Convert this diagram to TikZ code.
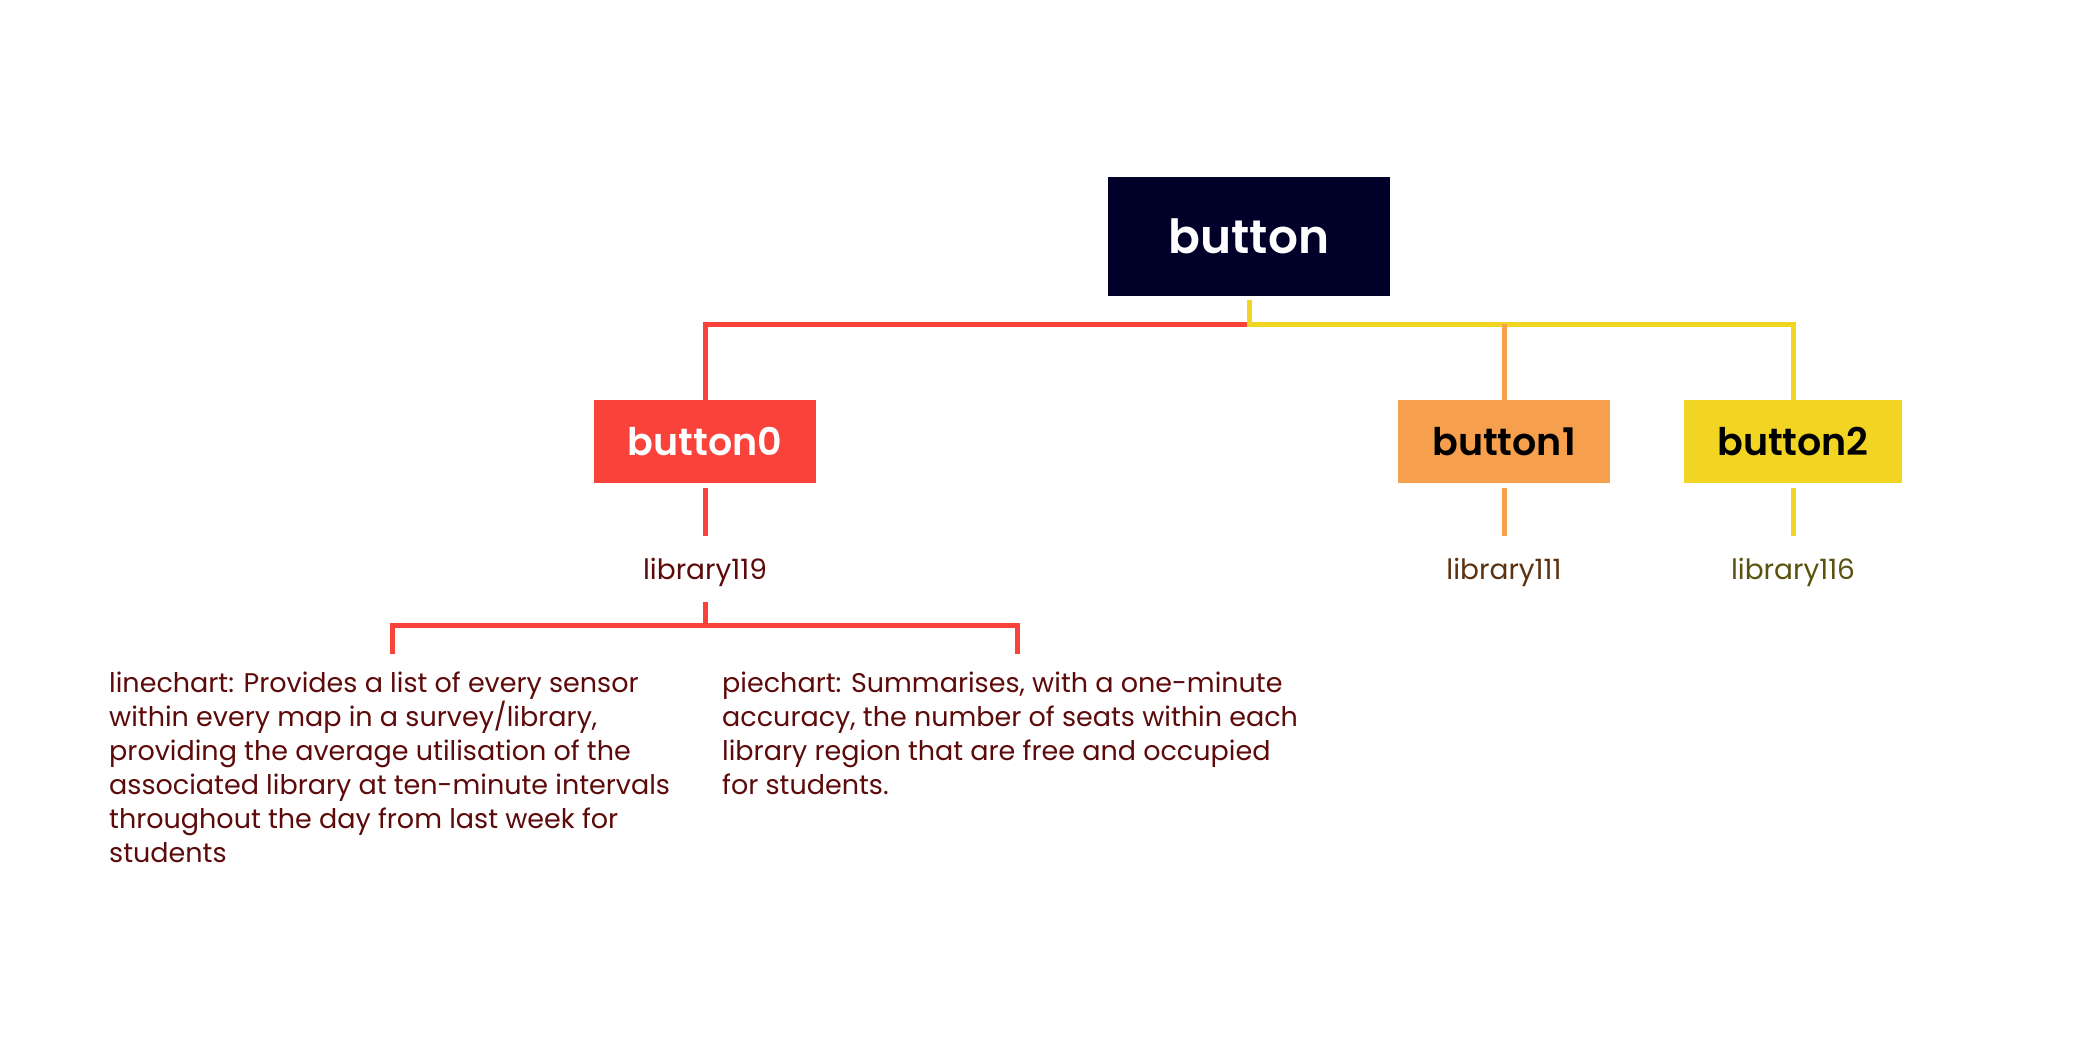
\documentclass[tikz,border=0pt]{standalone}
\usepackage{fontspec}
\setmainfont{Poppins}[BoldFont={Poppins SemiBold}]
\definecolor{navy}{HTML}{000028}
\definecolor{cred}{HTML}{F9423A}
\definecolor{corange}{HTML}{F6A04D}
\definecolor{cyellow}{HTML}{F2D422}
\definecolor{tred}{HTML}{5C0A0A}
\definecolor{tbrown}{HTML}{5C3210}
\definecolor{tolive}{HTML}{5C5210}
\tikzset{
  boxnode/.style={minimum height=83pt, inner sep=0pt, font=\fontsize{38}{40}\selectfont\bfseries},
  libnode/.style={anchor=base, inner sep=0pt, font=\fontsize{28}{34}\selectfont},
  link/.style={line width=5pt},
  desc/.style={anchor=base west, inner sep=0pt, text=tred}
}
\begin{document}
\begin{tikzpicture}[x=1pt,y=-1pt]
\useasboundingbox (0,0) rectangle (2093,1063);
\fill[white] (0,0) rectangle (2093,1063);
% nodes
\node[boxnode, fill=navy, text=white, minimum width=282pt, minimum height=119pt, font=\fontsize{47}{50}\selectfont\bfseries] (b) at (1249,236.5) {button};
\node[boxnode, fill=cred, text=white, minimum width=222pt] (b0) at (705,441.5) {button0};
\node[boxnode, fill=corange, text=black, minimum width=212pt] (b1) at (1504,441.5) {button1};
\node[boxnode, fill=cyellow, text=black, minimum width=218pt] (b2) at (1793,441.5) {button2};
\node[libnode, text=tred] (l0) at (705,579) {library119};
\node[libnode, text=tbrown] (l1) at (1504,579) {library111};
\node[libnode, text=tolive] (l2) at (1793,579) {library116};
\node[desc] (t1) at (109,692) {\parbox[t]{700pt}{\raggedright\fontsize{27}{34}\selectfont
linechart: Provides a list of every sensor\\
within every map in a survey/library,\\
providing the average utilisation of the\\
associated library at ten-minute intervals\\
throughout the day from last week for\\
students}};
\node[desc] (t2) at (722,692) {\parbox[t]{700pt}{\raggedright\fontsize{27}{34}\selectfont
piechart: Summarises, with a one-minute\\
accuracy, the number of seats within each\\
library region that are free and occupied\\
for students.}};
% junctions
\coordinate (j) at (1249,324);
\coordinate (j0) at (705,324);
\coordinate (j2) at (1793,324);
\coordinate (k) at (705,625);
\coordinate (k1) at (392,625);
\coordinate (k2) at (1017,625);
\coordinate (e1) at (392,654);
\coordinate (e2) at (1017,654);
% connectors
\draw[link, cred] (j) -- (j0) -- (b0.north);
\draw[link, cyellow] ([yshift=-4pt]b.south) -- (j) -- (j2) -- (b2.north);
\draw[link, corange] (j -| b1.north) -- (b1.north);
\draw[link, cred] ([yshift=-5pt]b0.south) -- ([yshift=22pt]l0.north);
\draw[link, corange] ([yshift=-5pt]b1.south) -- ([yshift=22pt]l1.north);
\draw[link, cyellow] ([yshift=-5pt]b2.south) -- ([yshift=22pt]l2.north);
\draw[link, cred] ([yshift=-23pt]l0.base) -- (k);
\draw[link, cred] (e1) -- (k1) -- (k2) -- (e2);
\end{tikzpicture}
\end{document}
